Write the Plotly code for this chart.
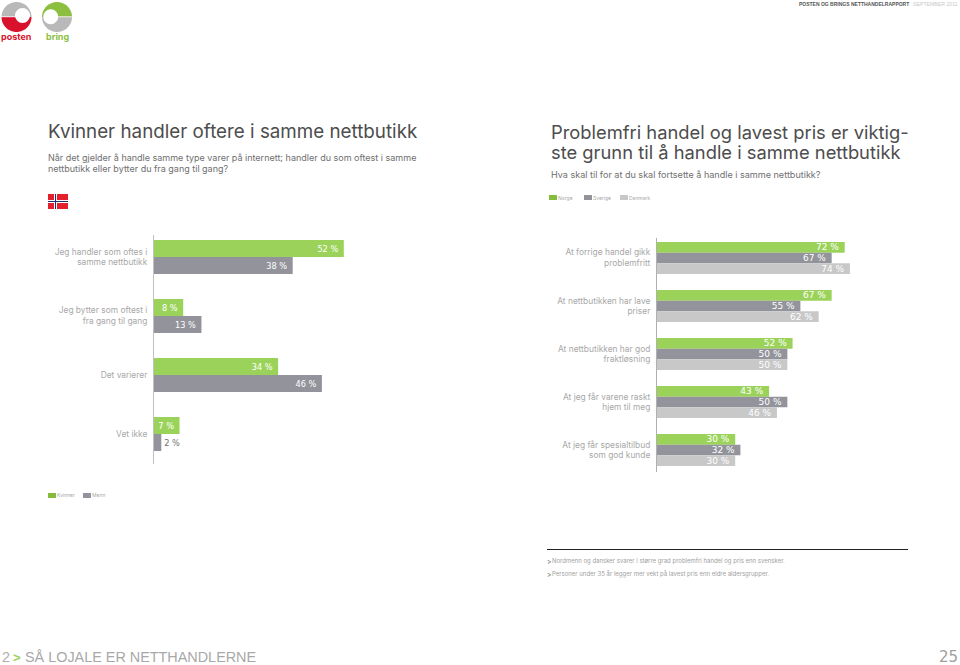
import math
import plotly.graph_objects as go

W, H = 960, 665

left_categories = ["Jeg handler som oftes i<br>samme nettbutikk", "Jeg bytter som oftest i<br>fra gang til gang",
                   "Det varierer", "Vet ikke"]
kvinner = [52, 8, 34, 7]
menn = [38, 13, 46, 2]

right_categories = ["At forrige handel gikk<br>problemfritt", "At nettbutikken har lave<br>priser",
                    "At nettbutikken har god<br>fraktløsning", "At jeg får varene raskt<br>hjem til meg",
                    "At jeg får spesialtilbud<br>som god kunde"]
norge = [72, 67, 52, 43, 30]
sverige = [67, 55, 50, 50, 32]
danmark = [74, 62, 50, 46, 30]

GREEN, GREY, LIGHT = "#9bd35a", "#92939b", "#c8c8c8"
DARKGREEN = "#86bc3c"
FONT = "Inter"
LABEL = "#a8a8a8"


def px(x):
    return x / W


def py(y):
    return 1 - y / H


fig = go.Figure()


def bars(name, cats, vals, color, xa, ya, fs, width, offset):
    pos = ["inside" if v > 5 else "outside" for v in vals]
    fig.add_trace(go.Bar(
        name=name, y=cats, x=vals, orientation="h", marker=dict(color=color, line=dict(width=0)),
        width=width, offset=offset,
        text=[f"{v} %\u00a0" for v in vals], textposition=pos, insidetextanchor="end",
        constraintext="none", cliponaxis=False,
        insidetextfont=dict(family="DejaVu Sans", size=fs, color="#ffffff"),
        outsidetextfont=dict(family="DejaVu Sans", size=fs, color="#6f6f6f"),
        xaxis=xa, yaxis=ya, showlegend=False, hoverinfo="skip"))


LW = 17 / 59
RW = 10.67 / 48
bars("Kvinner", left_categories, kvinner, GREEN, "x", "y", 8.2, LW, -LW)
bars("Menn", left_categories, menn, GREY, "x", "y", 8.2, LW, 0)
bars("Norge", right_categories, norge, GREEN, "x2", "y2", 9, RW, -1.5 * RW)
bars("Sverige", right_categories, sverige, GREY, "x2", "y2", 9, RW, -0.5 * RW)
bars("Danmark", right_categories, danmark, LIGHT, "x2", "y2", 9, RW, 0.5 * RW)

shapes, ann = [], []


def rect(x0, y0, x1, y1, color):
    shapes.append(dict(type="rect", xref="paper", yref="paper", x0=px(x0), x1=px(x1), y0=py(y0), y1=py(y1),
                       fillcolor=color, line=dict(width=0), layer="above"))


def text(x, y, s, size, color, anchor="left", family=FONT, weight=None):
    ann.append(dict(xref="paper", yref="paper", x=px(x), y=py(y), text=s, showarrow=False, xanchor=anchor,
                    yanchor="middle", align=anchor, font=dict(size=size, color=color, family=family, weight=weight),
                    borderpad=0, borderwidth=0))


def half_disc(cx, cy, r, color, upper):
    sign = -1 if upper else 1
    pts = [(cx + r * math.cos(math.pi * i / 40), cy + sign * r * math.sin(math.pi * i / 40)) for i in range(41)]
    path = "M " + " L ".join(f"{px(a):.5f} {py(b):.5f}" for a, b in pts) + " Z"
    shapes.append(dict(type="path", xref="paper", yref="paper", path=path,
                       fillcolor=color, line=dict(width=0), layer="above"))


def disc(cx, cy, r, color):
    shapes.append(dict(type="circle", xref="paper", yref="paper", x0=px(cx - r), x1=px(cx + r), y0=py(cy - r),
                       y1=py(cy + r), fillcolor=color, line=dict(width=0), layer="above"))


# logos
half_disc(16.5, 17, 15, "#b9b9b9", True)
half_disc(16.5, 17, 15, "#d8112d", False)
disc(22.5, 15.5, 7.5, "#ffffff")
rect(1, 16.4, 17, 17.2, "#ffffff")
half_disc(57, 17, 15, "#8cbf3f", True)
half_disc(57, 17, 15, "#b9b9b9", False)
disc(50.7, 16.7, 7.5, "#ffffff")
rect(55, 16.4, 73, 17.2, "#ffffff")
text(16.5, 36.5, "posten", 9, "#d8112d", "center", "Inter", 700)
text(57, 36.5, "bring", 9, "#8cbf3f", "center", "Inter", 700)

# header, footer
text(909, 4, "POSTEN OG BRINGS NETTHANDELRAPPORT", 5, "#555555", "right", "Liberation Sans", 700)
text(913, 4, "SEPTEMBER 2011", 5.2, "#c8c8c8", "left", "Liberation Sans")
text(2, 657, "2", 14.4, "#b0b0b0", "left", "Liberation Sans")
text(13, 657, "&gt;", 13, "#9bd35a", "left", "Liberation Sans", 700)
text(25, 657, "SÅ LOJALE ER NETTHANDLERNE", 14.4, "#a8a8a8", "left", "Liberation Sans")
text(958, 657, "25", 15, "#a0a0a0", "right", "DejaVu Sans")

# titles
text(48, 132, "Kvinner handler oftere i samme nettbutikk", 18.8, "#4d4d4d")
text(48, 157, "Når det gjelder å handle samme type varer på internett; handler du som oftest i samme", 9.0, "#6f6f70")
text(48, 168, "nettbutikk eller bytter du fra gang til gang?", 9.0, "#6f6f70")
text(551, 132, "Problemfri handel og lavest pris er viktig-", 18.35, "#4d4d4d")
text(551, 152, "ste grunn til å handle i samme nettbutikk", 18.35, "#4d4d4d")
text(551, 175, "Hva skal til for at du skal fortsette å handle i samme nettbutikk?", 9.05, "#6f6f70")

# flag
rect(48, 194, 68, 209, "#e3202c")
rect(48, 200, 68, 203, "#ffffff")
rect(54, 194, 57, 209, "#ffffff")
rect(48, 201, 68, 202, "#1d2f6f")
rect(55, 194, 56, 209, "#1d2f6f")

# legends
for name, color, x0 in zip(["Norge", "Sverige", "Danmark"], [DARKGREEN, GREY, LIGHT], [549, 584, 620]):
    rect(x0, 195, x0 + 8, 200, color)
    text(x0 + 9, 197.5, name, 5, "#a8a8a8")
for name, color, x0 in zip(["Kvinner", "Menn"], [DARKGREEN, GREY], [48, 83]):
    rect(x0, 493, x0 + 8, 498, color)
    text(x0 + 9, 495.5, name, 5, "#a8a8a8")

# notes
rect(547, 549, 908, 550, "#222222")
text(547, 561, "&gt;", 7, "#555555")
text(552, 561, "Nordmenn og dansker svarer i større grad problemfri handel og pris enn svensker.", 6, "#a0a0a0")
text(547, 574, "&gt;", 7, "#555555")
text(552, 574, "Personer under 35 år legger mer vekt på lavest pris enn eldre aldersgrupper.", 6, "#a0a0a0")

axis_font = dict(family=FONT, size=8.4, color=LABEL)
fig.update_layout(
    width=W, height=H, margin=dict(l=0, r=0, t=0, b=0), paper_bgcolor="#ffffff", plot_bgcolor="#ffffff",
    barmode="overlay", showlegend=False, shapes=shapes, annotations=ann,
    xaxis=dict(domain=[px(154), px(154 + 3.65 * 60)], range=[0, 60], visible=False),
    yaxis=dict(domain=[py(463.5), py(235)], anchor="x", categoryorder="array", categoryarray=left_categories,
               range=[3.5, -0.373], showline=True, linecolor="#c0c0c0", linewidth=1, ticks="", ticklabelstandoff=4,
               tickfont=axis_font, showgrid=False, zeroline=False),
    xaxis2=dict(domain=[px(657), px(657 + 2.607 * 100)], range=[0, 100], visible=False, anchor="y2"),
    yaxis2=dict(domain=[py(472), py(238)], anchor="x2", categoryorder="array", categoryarray=right_categories,
                range=[4.458, -0.4167], showline=True, linecolor="#b0b0b0", linewidth=1, ticks="", ticklabelstandoff=4,
                tickfont=axis_font, showgrid=False, zeroline=False),
)
fig.write_html("out.html", config=dict(displayModeBar=False),
               post_script="document.body.style.margin='0';document.body.style.overflow='hidden';")
